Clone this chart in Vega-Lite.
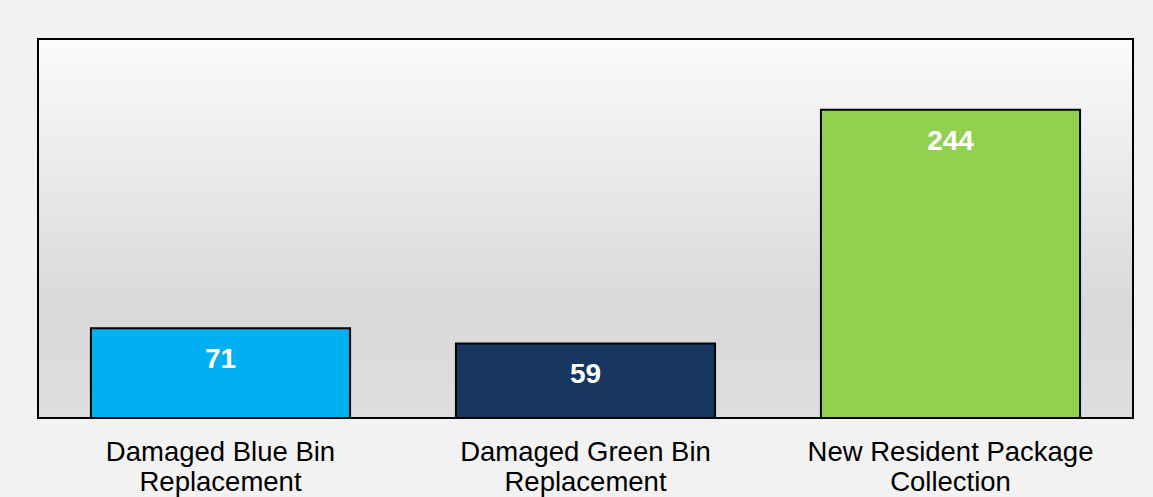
{
  "$schema": "https://vega.github.io/schema/vega-lite/v6.json",
  "width": 1095,
  "height": 379,
  "autosize": "none",
  "padding": {"left": 38, "top": 39, "right": 20, "bottom": 79},
  "background": "#f2f2f2",
  "config": {
    "view": {
      "stroke": "#000000",
      "strokeWidth": 2,
      "fill": {"gradient": "linear", "x1": 0, "y1": 0, "x2": 0, "y2": 1,
        "stops": [{"offset": 0, "color": "#fbfbfb"}, {"offset": 0.7, "color": "#d9d9d9"}, {"offset": 1, "color": "#dedede"}]}
    }
  },
  "data": {"values": [
    {"category": "Damaged Blue Bin Replacement", "count": 71},
    {"category": "Damaged Green Bin Replacement", "count": 59},
    {"category": "New Resident Package Collection", "count": 244}
  ]},
  "encoding": {
    "x": {"field": "category", "type": "nominal", "sort": null,
      "scale": {"paddingInner": 0.29, "paddingOuter": 0.145},
      "axis": {"title": null, "labelAngle": 0, "domain": false, "ticks": false,
        "labelFont": "Liberation Sans", "labelFontSize": 27.5, "labelColor": "#000000",
        "labelPadding": 20, "labelLineHeight": 30, "labelLimit": 400,
        "labelExpr": "datum.value == 'Damaged Blue Bin Replacement' ? ['Damaged Blue Bin', 'Replacement'] : datum.value == 'Damaged Green Bin Replacement' ? ['Damaged Green Bin', 'Replacement'] : ['New Resident Package', 'Collection']"}},
    "y": {"field": "count", "type": "quantitative", "scale": {"domain": [0, 300]}, "axis": null}
  },
  "layer": [
    {"mark": {"type": "bar", "stroke": "#000000", "strokeWidth": 2},
     "encoding": {"color": {"field": "category", "type": "nominal", "legend": null,
       "scale": {"domain": ["Damaged Blue Bin Replacement", "Damaged Green Bin Replacement", "New Resident Package Collection"],
                 "range": ["#00b0f0", "#17375e", "#92d050"]}}}},
    {"mark": {"type": "text", "baseline": "middle", "dy": 32, "color": "#ffffff", "font": "Liberation Sans", "fontWeight": "bold", "fontSize": 28},
     "encoding": {"text": {"field": "count", "type": "quantitative"}}}
  ]
}
